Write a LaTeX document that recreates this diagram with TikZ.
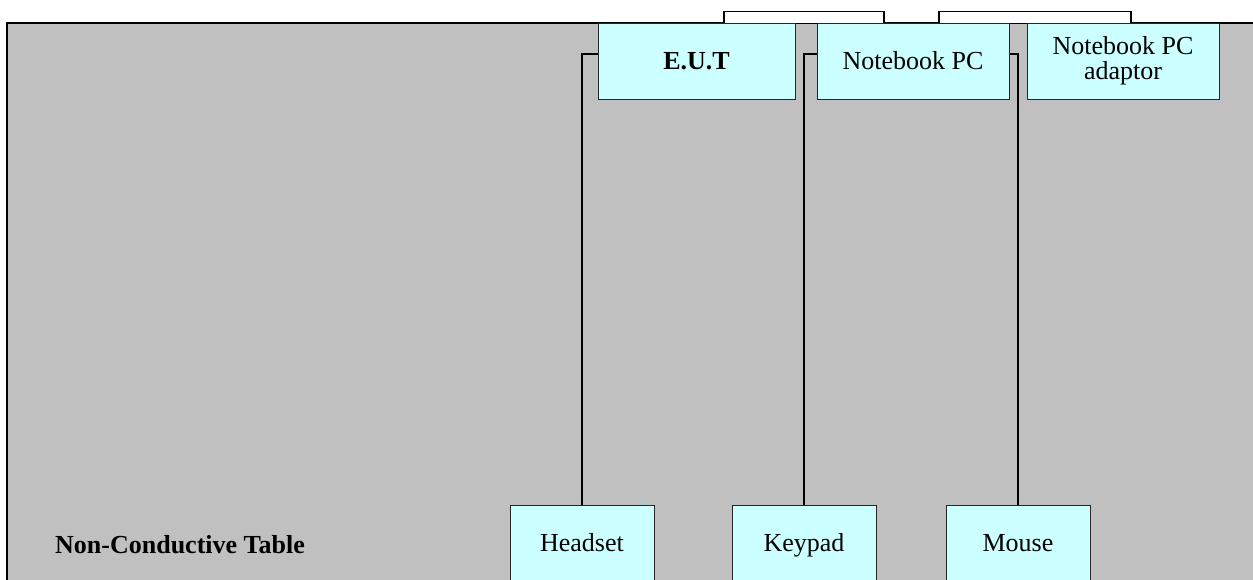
\documentclass[tikz,border=0pt]{standalone}
\usepackage{fontspec}
\setmainfont{Liberation Serif}
\definecolor{tablegray}{HTML}{C0C0C0}
\definecolor{boxcyan}{HTML}{CCFFFF}
\begin{document}
\begin{tikzpicture}[x=1pt,y=-1pt,
  devbox/.style={draw=black!85, line width=1pt, fill=boxcyan, inner sep=0pt, align=center,
    font=\fontsize{26}{25}\selectfont},
  topbox/.style={devbox, minimum width=192pt, minimum height=76pt},
  botbox/.style={devbox, minimum width=144pt, minimum height=80pt, text height=18pt, text depth=6pt},
  wire/.style={draw=black, line width=1.2pt}]
\useasboundingbox (0,0) rectangle (1253,579);
% table
\fill[tablegray] (7,23) rectangle (1270,600);
\draw[line width=2pt] (7,600) -- (7,23) -- (1270,23);
% devices
\node[topbox, minimum width=197pt, font=\fontsize{26}{25}\selectfont\bfseries] (eut) at (696.5,61) {E.U.T};
\node[topbox] (nb) at (913,61) {Notebook PC};
\node[topbox] (ad) at (1123,61) {Notebook PC\\adaptor};
\node[botbox] (hs) at (582,545) {Headset};
\node[botbox] (kp) at (804,545) {Keypad};
\node[botbox] (ms) at (1018,545) {Mouse};
\node[anchor=base west, inner sep=0pt, font=\fontsize{26}{25}\selectfont\bfseries] (lbl) at (55,553) {Non-Conductive Table};
% cables
\draw[wire] ([yshift=7pt]eut.west) -| (hs.north);
\draw[wire] ([yshift=7pt]nb.west) -| (kp.north);
\draw[wire] ([yshift=7pt]nb.east) -| (ms.north);
\draw[wire, fill=white] ([xshift=27.5pt]eut.north) |- ([xshift=-29pt,yshift=11pt]nb.north) -- ([xshift=-29pt]nb.north);
\draw[wire, fill=white] ([xshift=26pt]nb.north) |- ([xshift=8pt,yshift=11pt]ad.north) -- ([xshift=8pt]ad.north);
\end{tikzpicture}
\end{document}
